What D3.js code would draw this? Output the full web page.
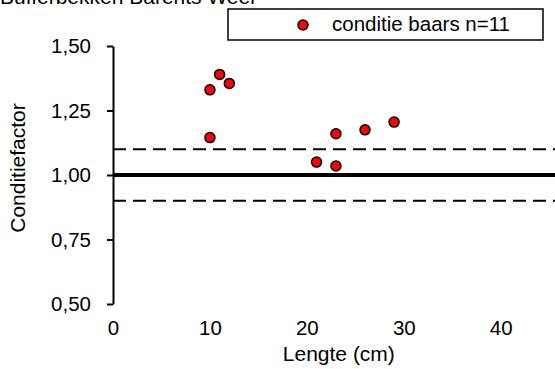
<!DOCTYPE html>
<html><head><meta charset="utf-8">
<script src="https://cdn.jsdelivr.net/npm/d3@7"></script>
<style>body{margin:0;background:#fff}svg{display:block}text{font-family:"Liberation Sans",Arial,sans-serif;fill:#000}</style>
</head><body>
<script>
const title = "Bufferbekken Barents Weel";
const seriesName = "conditie baars n=11";
const lengths = [10, 11, 12, 10, 21, 23, 23, 26, 29];
const factors = [1.33, 1.39, 1.355, 1.145, 1.05, 1.035, 1.16, 1.175, 1.205];
const xTicks = [0, 10, 20, 30, 40];
const yTicks = [0.5, 0.75, 1.0, 1.25, 1.5];
const refLines = [{v: 1.0, dash: null, w: 4}, {v: 1.1, dash: "13,7", w: 2}, {v: 0.9, dash: "13,7", w: 2}];

const W = 555, H = 369;
const svg = d3.select("body").append("svg").attr("width", W).attr("height", H);
const x = d3.scaleLinear().domain([0, 45.6]).range([113, 555]);
const y = d3.scaleLinear().domain([0.5, 1.5]).range([304, 46]);
const fmt = d => d3.format(".2f")(d).replace(".", ",");

// title (cut off at the top edge, as in the reference)
svg.append("text").attr("x", 0).attr("y", 4).attr("font-size", 21).text(title);

// reference lines
svg.selectAll(".ref").data(refLines).enter().append("line")
  .attr("x1", x(0)).attr("x2", W)
  .attr("y1", d => y(d.v)).attr("y2", d => y(d.v))
  .attr("stroke", "#000").attr("stroke-width", d => d.w)
  .attr("stroke-dasharray", d => d.dash);

// y axis
const ya = svg.append("g").attr("transform", `translate(${x(0)},0)`)
  .call(d3.axisLeft(y).tickValues(yTicks).tickFormat(fmt).tickSize(6).tickSizeOuter(0).tickPadding(16));
ya.select(".domain").attr("stroke-width", 2);
ya.selectAll(".tick line").attr("stroke-width", 2);
ya.selectAll("text").attr("font-size", 20.5).attr("font-family", "Liberation Sans, Arial, sans-serif");

// x axis (labels only)
const xa = svg.append("g").attr("transform", `translate(0,${y(0.5)})`)
  .call(d3.axisBottom(x).tickValues(xTicks).tickFormat(d3.format("d")).tickSize(0).tickPadding(16));
xa.select(".domain").remove();
xa.selectAll("text").attr("font-size", 20.5).attr("font-family", "Liberation Sans, Arial, sans-serif");

// axis titles
svg.append("text").attr("x", x(23.3)).attr("y", 361).attr("text-anchor", "middle").attr("font-size", 21).text("Lengte (cm)");
svg.append("text").attr("transform", "translate(25,168) rotate(-90)").attr("text-anchor", "middle").attr("font-size", 21).text("Conditiefactor");

// points
svg.selectAll(".pt").data(lengths.map((l, i) => [l, factors[i]])).enter().append("circle")
  .attr("cx", d => x(d[0])).attr("cy", d => y(d[1])).attr("r", 5)
  .attr("fill", "#ff0000").attr("stroke", "#000").attr("stroke-width", 1.5);

// legend
const lg = svg.append("g");
lg.append("rect").attr("x", 228).attr("y", 9).attr("width", 315).attr("height", 31)
  .attr("fill", "#fff").attr("stroke", "#000").attr("stroke-width", 1.5);
lg.append("circle").attr("cx", 303).attr("cy", 25).attr("r", 5)
  .attr("fill", "#ff0000").attr("stroke", "#000").attr("stroke-width", 1.5);
lg.append("text").attr("x", 332).attr("y", 31).attr("font-size", 20.5).text(seriesName);
</script>
</body></html>
